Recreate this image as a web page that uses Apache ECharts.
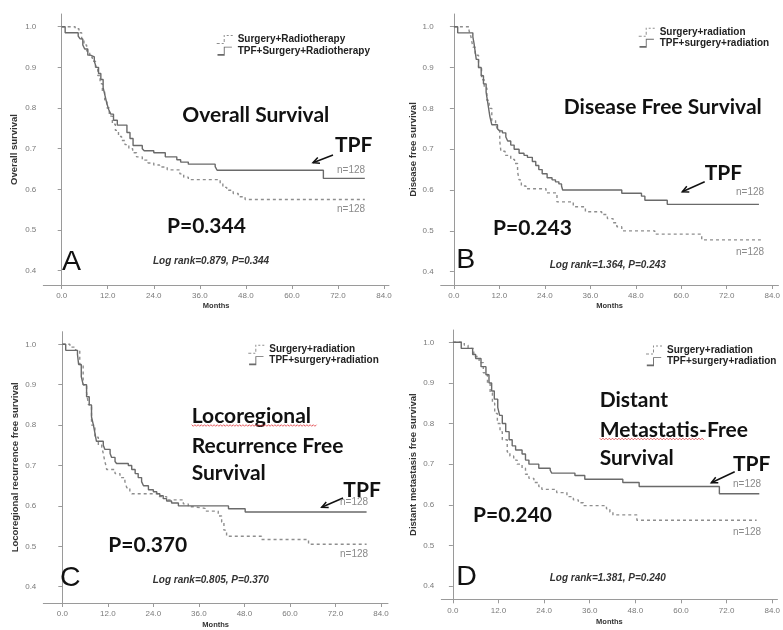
<!DOCTYPE html>
<html><head><meta charset="utf-8">
<script src="https://cdn.jsdelivr.net/npm/echarts@6/dist/echarts.min.js"></script>
<style>html,body{margin:0;padding:0;background:#fff}#c{width:783px;height:630px}</style>
</head><body><div id="c"></div>
<script>
// ---------- data ----------
const xTickValues = [0, 12, 24, 36, 48, 60, 72, 84];
const yTickValues = [0.4, 0.5, 0.6, 0.7, 0.8, 0.9, 1.0];

const yNames = ['Overall survival', 'Disease free survival', 'Locoregional recurrence free survival', 'Distant metastasis free survival'];
const srNames = ['Surgery+Radiotherapy', 'Surgery+radiation', 'Surgery+radiation', 'Surgery+radiation'];
const tpfNames = ['TPF+Surgery+Radiotherapy', 'TPF+surgery+radiation', 'TPF+surgery+radiation', 'TPF+surgery+radiation'];

// Panel A - Overall survival
const monthsA_SR = [0,3.5,4.5,5.2,5.8,6.5,7.3,8.0,8.8,9.4,10.0,10.6,11.2,11.8,12.4,13.2,14.0,14.8,15.6,16.5,17.5,18.5,19.5,21.0,22.5,24.0,25.5,27.5,30.8,31.8,33.0,41.3,42.0,43.0,44.7,46.0,47.8,79.0];
const survA_SR   = [1.0,0.995,0.985,0.97,0.955,0.94,0.925,0.915,0.90,0.88,0.86,0.84,0.82,0.80,0.78,0.76,0.745,0.73,0.72,0.71,0.70,0.69,0.68,0.672,0.665,0.66,0.655,0.648,0.638,0.63,0.624,0.615,0.605,0.598,0.59,0.582,0.575,0.575];
const monthsA_TPF = [0,0.9,4.3,4.8,5.5,6.0,6.8,7.5,8.5,9.0,9.6,10.2,10.8,11.3,11.8,12.3,12.8,13.5,14.5,17.0,17.8,18.6,21.0,21.5,24.0,27.0,30.0,31.0,33.0,40.0,40.5,68.2,79.0];
const survA_TPF   = [1.0,0.985,0.977,0.97,0.955,0.945,0.93,0.926,0.915,0.90,0.885,0.87,0.85,0.83,0.81,0.795,0.785,0.77,0.758,0.74,0.725,0.708,0.70,0.695,0.69,0.68,0.673,0.667,0.662,0.656,0.647,0.627,0.627];

// Panel B - Disease free survival
const monthsB_SR = [0,4.0,4.5,5.0,5.6,6.5,7.3,8.0,8.7,9.3,10.0,11.0,11.5,12.1,12.4,13.5,15.0,16.0,16.8,17.2,17.8,19.0,24.3,27.2,31.5,34.7,39.0,40.5,42.0,43.0,44.3,53.0,65.4,81.0];
const survB_SR   = [1.0,0.99,0.975,0.95,0.93,0.90,0.87,0.85,0.82,0.80,0.77,0.76,0.75,0.72,0.695,0.685,0.675,0.665,0.645,0.625,0.61,0.603,0.593,0.571,0.559,0.547,0.54,0.53,0.52,0.51,0.50,0.492,0.478,0.478];
const monthsB_TPF = [0,1.0,5.0,5.3,5.6,5.9,6.5,7.2,7.8,8.5,9.0,9.5,10.0,11.5,12.0,12.8,13.7,14.2,15.0,15.9,17.2,18.5,19.4,20.7,21.6,22.4,23.3,24.6,25.9,26.8,27.7,28.4,28.7,44.3,49.5,50.4,56.3,80.5];
const survB_TPF   = [1.0,0.985,0.975,0.96,0.94,0.92,0.90,0.88,0.86,0.84,0.81,0.78,0.76,0.75,0.745,0.74,0.73,0.72,0.71,0.70,0.69,0.685,0.68,0.67,0.66,0.65,0.64,0.63,0.625,0.62,0.615,0.61,0.60,0.592,0.585,0.575,0.565,0.565];

// Panel C - Locoregional recurrence free survival
const monthsC_SR = [0,2.0,3.5,4.6,5.5,6.4,6.9,7.7,8.6,9.5,10.4,10.8,11.2,11.5,11.7,13.9,15.2,16.5,17.0,17.8,18.3,25.3,27.5,31.9,33.2,34.5,37.6,41.1,42.0,42.6,43.3,52.5,64.9,80.2];
const survC_SR   = [1.0,0.993,0.985,0.95,0.90,0.88,0.85,0.80,0.77,0.75,0.745,0.73,0.71,0.70,0.69,0.68,0.67,0.66,0.645,0.635,0.63,0.623,0.615,0.605,0.598,0.594,0.587,0.575,0.56,0.54,0.525,0.517,0.505,0.505];
const monthsC_TPF = [0,0.9,4.0,4.3,5.0,5.5,6.4,7.1,7.7,8.2,8.6,9.0,10.8,11.2,12.6,13.0,13.9,14.3,17.4,18.3,19.2,20.0,20.9,21.4,22.7,24.0,24.9,25.7,26.6,27.5,28.8,30.6,43.8,48.2,80.2];
const survC_TPF   = [1.0,0.985,0.975,0.95,0.92,0.90,0.87,0.85,0.82,0.80,0.78,0.76,0.75,0.74,0.73,0.72,0.71,0.705,0.70,0.69,0.68,0.67,0.66,0.65,0.64,0.635,0.63,0.625,0.618,0.612,0.607,0.60,0.593,0.585,0.585];

// Panel D - Distant metastasis free survival
const monthsD_SR = [0,3.0,4.0,5.5,6.9,8.0,9.1,9.8,10.4,11.0,11.7,12.4,13.0,14.3,15.0,16.0,16.9,18.2,19.1,20.0,21.3,22.6,23.4,27.3,30.0,31.7,33.0,34.3,40.4,41.3,42.1,48.4,79.9];
const survD_SR   = [1.0,0.993,0.985,0.965,0.95,0.925,0.90,0.875,0.85,0.825,0.80,0.78,0.76,0.73,0.72,0.71,0.70,0.69,0.675,0.665,0.655,0.645,0.638,0.63,0.62,0.612,0.605,0.598,0.59,0.582,0.575,0.562,0.562];
const monthsD_TPF = [0,2.2,5.2,6.0,7.4,8.7,9.5,10.2,10.9,11.8,12.3,13.0,13.9,14.8,15.6,16.5,18.2,19.1,20.0,22.6,25.6,26.0,32.1,34.7,44.7,49.0,70.1,80.6];
const survD_TPF   = [1.0,0.985,0.97,0.96,0.94,0.92,0.90,0.88,0.86,0.84,0.82,0.80,0.78,0.76,0.745,0.735,0.725,0.71,0.70,0.69,0.685,0.678,0.672,0.663,0.655,0.645,0.627,0.627];

const seriesData = [
  [monthsA_SR, survA_SR, monthsA_TPF, survA_TPF],
  [monthsB_SR, survB_SR, monthsB_TPF, survB_TPF],
  [monthsC_SR, survC_SR, monthsC_TPF, survC_TPF],
  [monthsD_SR, survD_SR, monthsD_TPF, survD_TPF]
];

// annotation texts
const titles = [['Overall Survival'], ['Disease Free Survival'], ['Locoregional', 'Recurrence Free', 'Survival'], ['Distant', 'Metastatis-Free', 'Survival']];
const pTexts = ['P=0.344', 'P=0.243', 'P=0.370', 'P=0.240'];
const letters = ['A', 'B', 'C', 'D'];
const logRanks = ['Log rank=0.879, P=0.344', 'Log rank=1.364, P=0.243', 'Log rank=0.805, P=0.370', 'Log rank=1.381, P=0.240'];
const nLabel = 'n=128';

// ---------- layout (pixels) ----------
const L = [
  {x0:61.7, x84:384,   y1:26.7,  y04:270.7, left:43.3,  bottom:285,   top:14,    right:389, ygap:23.5, xgap:17,
   legend:[216.7, 34.5, 1.7], title:{cx:255.8, y:[115]}, tpf:[335,145.7], arr:[333,155,313,162.7], n:[337,170,209], p:[167,226.7], let:[62,261.7], lr:[153,261.7]},
  {x0:454,  x84:774.7, y1:26.7,  y04:271.7, left:440.7, bottom:285,   top:14,    right:781, ygap:22.7, xgap:17,
   legend:[638.7, 27.3, 1], title:{cx:662.8, y:[107.3]}, tpf:[704.7,173.3], arr:[704.7,181.7,682.3,191.7], n:[736,192.7,252.3], p:[493,228.3], let:[456.3,260], lr:[549.7,265]},
  {x0:62.3, x84:381,   y1:344.3, y04:586.7, left:43.3,  bottom:603,   top:331.7, right:388, ygap:23.3, xgap:18,
   legend:[248.3, 344.3, 1.4], title:{lx:191.7, y:[416.7,446,473.3], wavy:[191.7,316.7,425.5]}, tpf:[343.3,490], arr:[343,498,321.7,507.3], n:[340,502.7,554.3], p:[108.3,545], let:[60,578.3], lr:[152.7,580]},
  {x0:453,  x84:775.7, y1:342.3, y04:586,   left:441.3, bottom:599.3, top:330,   right:781, ygap:22.6, xgap:19,
   legend:[646, 345, 1.7], title:{lx:599.7, y:[400.7,430,458.3], wavy:[599.7,704.7,439]}, tpf:[733,464], arr:[734.7,471.7,711.3,482.7], n:[733,484,532.7], p:[473,515], let:[456.3,576.7], lr:[549.7,578.3]}
];

const FONT = 'Liberation Sans, Arial, sans-serif';
const TITLE_FONT = 'Lato, "Open Sans", sans-serif';
const SR_COLOR = '#8e8e8e';
const TPF_COLOR = '#6a6a6a';
const dashIcon = 'path://M0,8h3v1h-3z M5,8h2v1h-2z M7,4h1v3h-1z M7,0h1v2h-1z M10,0h2v1h-2z M14,0h2v1h-2z';
const solidIcon = 'path://M0,8h7v-8h9v1h-8v9h-8z';

const grids = [], xAxes = [], yAxes = [], series = [], legends = [], graphics = [];

function txt(s, x, y, font, color, align) {
  return {type:'text', x:x, y:y, z:10, style:{text:s, font:font, fill:color, align:align||'left', verticalAlign:'middle'}};
}
function arrow(x1, y1, x2, y2) {
  const a = Math.atan2(y2 - y1, x2 - x1), h = 7, s = 0.45;
  const p1 = [x2 - h * Math.cos(a - s), y2 - h * Math.sin(a - s)];
  const p2 = [x2 - h * Math.cos(a + s), y2 - h * Math.sin(a + s)];
  return [
    {type:'polyline', z:10, shape:{points:[[x1,y1],[x2,y2]]}, style:{stroke:'#111', lineWidth:1.5, fill:'none'}},
    {type:'polyline', z:10, shape:{points:[p1,[x2,y2],p2]}, style:{stroke:'#111', lineWidth:1.5, fill:'none'}}
  ];
}
function wavy(x1, x2, y) {
  const pts = []; let up = true;
  for (let x = x1; x <= x2; x += 1.6) { pts.push([x, y + (up ? -0.8 : 0.8)]); up = !up; }
  return {type:'polyline', z:10, shape:{points:pts}, style:{stroke:'#e0393e', lineWidth:0.8, fill:'none'}};
}

L.forEach((p, i) => {
  const ppm = (p.x84 - p.x0) / 84;
  const ppu = (p.y04 - p.y1) / 0.6;
  const xmin = (p.left - p.x0) / ppm, xmax = (p.right - p.x0) / ppm;
  const ymax = 1 + (p.y1 - p.top) / ppu, ymin = 1 - (p.bottom - p.y1) / ppu;
  grids.push({left:p.left, top:p.top, width:p.right - p.left, height:p.bottom - p.top});
  xAxes.push({
    gridIndex:i, type:'value', min:xmin, max:xmax,
    axisLine:{lineStyle:{color:'#9a9a9a', width:1}},
    axisTick:{customValues:xTickValues, length:4, lineStyle:{color:'#9a9a9a'}},
    axisLabel:{customValues:xTickValues, formatter:v => Number(v).toFixed(1), fontSize:8, color:'#7a7a7a', margin:7, fontFamily:FONT},
    splitLine:{show:false},
    name:'Months', nameLocation:'middle', nameGap:p.xgap,
    nameTextStyle:{fontSize:7.5, fontWeight:'bold', color:'#333', fontFamily:FONT}
  });
  yAxes.push({
    gridIndex:i, type:'value', min:ymin, max:ymax,
    axisLine:{show:true, lineStyle:{color:'#9a9a9a', width:1}},
    axisTick:{show:true, customValues:yTickValues, length:4, lineStyle:{color:'#9a9a9a'}},
    axisLabel:{customValues:yTickValues, formatter:v => Number(v).toFixed(1), fontSize:8, color:'#7a7a7a', margin:7, fontFamily:FONT},
    splitLine:{show:false},
    name:yNames[i], nameLocation:'middle', nameGap:p.ygap,
    nameTextStyle:{fontSize:9.5, fontWeight:'bold', color:'#333', fontFamily:FONT}
  });
  const d = seriesData[i];
  series.push({
    name:srNames[i], type:'line', step:'end', xAxisIndex:i, yAxisIndex:i, symbol:'none', silent:true,
    color:SR_COLOR, lineStyle:{color:SR_COLOR, width:1.4, type:[3,3]},
    data:d[0].map((m, k) => [m, d[1][k]])
  });
  series.push({
    name:tpfNames[i], type:'line', step:'end', xAxisIndex:i, yAxisIndex:i, symbol:'none', silent:true,
    color:TPF_COLOR, lineStyle:{color:TPF_COLOR, width:1.4},
    data:d[2].map((m, k) => [m, d[3][k]])
  });
  legends.push({
    orient:'vertical', left:p.legend[0], top:p.legend[1], padding:0, itemGap:p.legend[2],
    itemWidth:16, itemHeight:9, selectedMode:false,
    itemStyle:{borderWidth:0},
    textStyle:{fontSize:10, fontWeight:'bold', color:'#222', fontFamily:FONT, lineHeight:10},
    data:[{name:srNames[i], icon:dashIcon}, {name:tpfNames[i], icon:solidIcon}]
  });
  // title
  const t = p.title;
  titles[i].forEach((line, k) => {
    if (t.cx !== undefined) graphics.push(txt(line, t.cx, t.y[k], 'bold 21px ' + TITLE_FONT, '#111', 'center'));
    else graphics.push(txt(line, t.lx, t.y[k], 'bold 21px ' + TITLE_FONT, '#111', 'left'));
  });
  if (t.wavy) graphics.push(wavy(t.wavy[0], t.wavy[1], t.wavy[2]));
  graphics.push(txt('TPF', p.tpf[0], p.tpf[1], 'bold 21px ' + TITLE_FONT, '#111'));
  arrow(p.arr[0], p.arr[1], p.arr[2], p.arr[3]).forEach(g => graphics.push(g));
  graphics.push(txt(nLabel, p.n[0], p.n[1], '10px ' + FONT, '#8a8a8a'));
  graphics.push(txt(nLabel, p.n[0], p.n[2], '10px ' + FONT, '#8a8a8a'));
  graphics.push(txt(pTexts[i], p.p[0], p.p[1], 'bold 21px ' + TITLE_FONT, '#111'));
  graphics.push(txt(letters[i], p.let[0], p.let[1], '28.5px ' + FONT, '#111'));
  graphics.push(txt(logRanks[i], p.lr[0], p.lr[1], 'italic bold 10px ' + FONT, '#333'));
});

const chart = echarts.init(document.getElementById('c'), null, {renderer:'canvas'});
chart.setOption({
  backgroundColor:'#ffffff',
  animation:false,
  grid:grids, xAxis:xAxes, yAxis:yAxes, series:series, legend:legends, graphic:graphics
});
</script>
</body></html>
